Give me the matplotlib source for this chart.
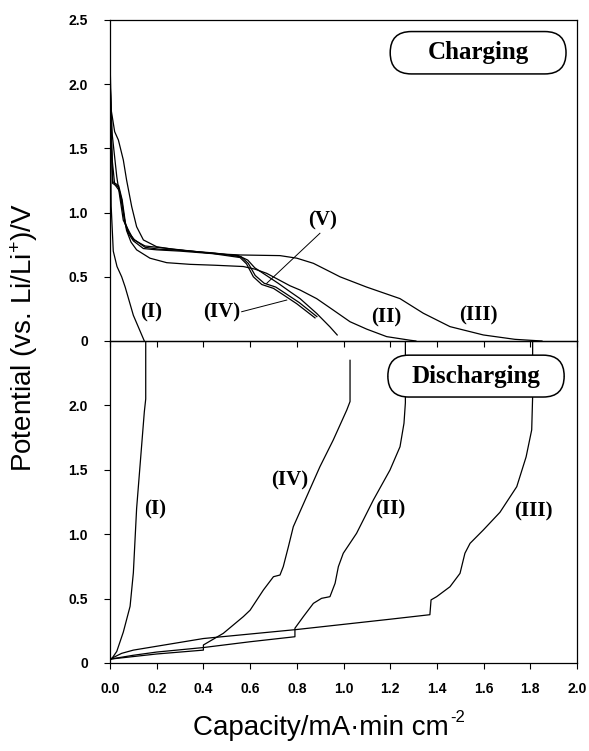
import matplotlib
matplotlib.use("Agg")
import matplotlib.pyplot as plt
from matplotlib.patches import FancyBboxPatch

# ---------------- data ----------------
# Charging curves (top panel)
chg_I_x = [0.0, 0.002, 0.005, 0.014, 0.03, 0.05, 0.065, 0.1, 0.147]
chg_I_y = [2.2, 1.6, 1.05, 0.70, 0.58, 0.50, 0.42, 0.20, 0.0]

chg_II_x = [0.0, 0.004, 0.01, 0.02, 0.04, 0.055, 0.071, 0.09, 0.114, 0.171, 0.243, 0.343, 0.45, 0.571,
            0.62, 0.671, 0.771, 0.814, 0.885, 0.956, 1.028, 1.1, 1.185, 1.285, 1.31]
chg_II_y = [2.1, 1.7, 1.4, 1.22, 1.17, 1.02, 0.86, 0.77, 0.71, 0.645, 0.61, 0.597, 0.59, 0.58,
            0.56, 0.527, 0.43, 0.397, 0.33, 0.241, 0.15, 0.092, 0.034, 0.006, 0.0]

chg_III_x = [0.0, 0.005, 0.02, 0.036, 0.057, 0.071, 0.093, 0.114, 0.143, 0.2, 0.271, 0.343, 0.45,
             0.557, 0.728, 0.8, 0.871, 0.956, 0.985, 1.099, 1.242, 1.342, 1.456, 1.599, 1.734, 1.85]
chg_III_y = [2.2, 1.8, 1.63, 1.565, 1.41, 1.254, 1.046, 0.89, 0.787, 0.734, 0.714, 0.70, 0.68,
             0.67, 0.665, 0.645, 0.605, 0.527, 0.50, 0.42, 0.33, 0.216, 0.112, 0.047, 0.013, 0.0]

chg_IV_x = [0.0, 0.004, 0.011, 0.036, 0.05, 0.064, 0.078, 0.1, 0.143, 0.2, 0.3, 0.442, 0.557,
            0.585, 0.614, 0.65, 0.70, 0.742, 0.80, 0.878]
chg_IV_y = [2.2, 1.6, 1.228, 1.20, 1.10, 0.917, 0.839, 0.78, 0.72, 0.71, 0.70, 0.68, 0.65,
            0.60, 0.50, 0.44, 0.41, 0.36, 0.29, 0.18]

chg_V_x = [0.0, 0.004, 0.012, 0.037, 0.052, 0.066, 0.08, 0.104, 0.15, 0.21, 0.31, 0.45, 0.562,
           0.592, 0.622, 0.66, 0.71, 0.752, 0.81, 0.886]
chg_V_y = [2.15, 1.65, 1.24, 1.21, 1.10, 0.92, 0.845, 0.79, 0.73, 0.715, 0.705, 0.685, 0.655,
           0.605, 0.51, 0.45, 0.42, 0.37, 0.30, 0.19]

chg_VI_x = [0.0, 0.005, 0.01, 0.029, 0.057, 0.1, 0.15, 0.25, 0.4, 0.55, 0.59, 0.62, 0.656,
            0.72, 0.771, 0.814, 0.885, 0.942, 0.973]
chg_VI_y = [2.05, 1.8, 1.6, 1.28, 0.94, 0.79, 0.74, 0.72, 0.69, 0.665, 0.63, 0.57, 0.527,
            0.45, 0.384, 0.33, 0.215, 0.11, 0.047]

# Discharging curves (bottom panel)
dis_I_x = [0.0, 0.01, 0.029, 0.057, 0.086, 0.1, 0.114, 0.136, 0.147, 0.153, 0.153]
dis_I_y = [0.02, 0.04, 0.09, 0.24, 0.44, 0.70, 1.20, 1.70, 1.95, 2.05, 2.5]

dis_II_x = [0.0, 0.1, 0.2, 0.4, 0.6, 0.792, 0.792, 0.828, 0.871, 0.906, 0.942, 0.964, 0.978,
            0.999, 1.056, 1.128, 1.199, 1.242, 1.259, 1.265, 1.265]
dis_II_y = [0.03, 0.06, 0.085, 0.12, 0.165, 0.204, 0.27, 0.36, 0.463, 0.502, 0.515, 0.619, 0.748,
            0.852, 1.007, 1.266, 1.498, 1.679, 1.861, 2.02, 2.5]

dis_III_x = [0.0, 0.05, 0.1, 0.2, 0.3, 0.4, 0.6, 0.8, 1.0, 1.2, 1.37, 1.375, 1.399, 1.456,
             1.499, 1.52, 1.542, 1.599, 1.67, 1.742, 1.782, 1.806, 1.81, 1.81]
dis_III_y = [0.03, 0.075, 0.10, 0.13, 0.16, 0.19, 0.225, 0.26, 0.30, 0.34, 0.375, 0.49, 0.515,
             0.592, 0.696, 0.852, 0.929, 1.033, 1.17, 1.369, 1.60, 1.81, 2.07, 2.5]

dis_IV_x = [0.0, 0.1, 0.2, 0.3, 0.4, 0.4, 0.485, 0.571, 0.6, 0.657, 0.70, 0.728, 0.742, 0.764,
            0.785, 0.842, 0.899, 0.956, 1.014, 1.028, 1.028]
dis_IV_y = [0.03, 0.05, 0.07, 0.085, 0.10, 0.14, 0.23, 0.36, 0.41, 0.567, 0.67, 0.683, 0.748, 0.903,
            1.058, 1.291, 1.524, 1.731, 1.964, 2.03, 2.35]

x_ticks = [0.0, 0.2, 0.4, 0.6, 0.8, 1.0, 1.2, 1.4, 1.6, 1.8, 2.0]
x_ticklabels = ["0.0", "0.2", "0.4", "0.6", "0.8", "1.0", "1.2", "1.4", "1.6", "1.8", "2.0"]
top_yticks = [0, 0.5, 1.0, 1.5, 2.0, 2.5]
top_yticklabels = ["0", "0.5", "1.0", "1.5", "2.0", "2.5"]
bot_yticks = [0, 0.5, 1.0, 1.5, 2.0]
bot_yticklabels = ["0", "0.5", "1.0", "1.5", "2.0"]

# ---------------- figure ----------------
W, H = 589, 751
fig = plt.figure(figsize=(W / 100, H / 100), dpi=100)
plt.rcParams["mathtext.default"] = "regular"

L, R = 110, 577
T_top, T_mid, T_bot = 20, 341, 663
ax_top = fig.add_axes([L / W, 1 - T_mid / H, (R - L) / W, (T_mid - T_top) / H])
ax_bot = fig.add_axes([L / W, 1 - T_bot / H, (R - L) / W, (T_bot - T_mid) / H])

lw = 0.9
for xs, ys in [(chg_I_x, chg_I_y), (chg_II_x, chg_II_y), (chg_III_x, chg_III_y),
               (chg_IV_x, chg_IV_y), (chg_V_x, chg_V_y), (chg_VI_x, chg_VI_y)]:
    ax_top.plot(xs, ys, color="black", lw=lw, solid_joinstyle="round")
for xs, ys in [(dis_I_x, dis_I_y), (dis_II_x, dis_II_y), (dis_III_x, dis_III_y),
               (dis_IV_x, dis_IV_y)]:
    ax_bot.plot(xs, ys, color="black", lw=lw, solid_joinstyle="round")

tick_font = dict(family="Liberation Sans", weight="bold", size=10)
for ax in (ax_top, ax_bot):
    ax.set_xlim(0, 2.0)
    ax.set_ylim(0, 2.5)
    ax.set_xticks(x_ticks)
    ax.tick_params(direction="out", length=4, width=0.8, colors="black")
    ax.tick_params(axis="y", pad=12)
    ax.tick_params(axis="x", pad=10)
    for s in ax.spines.values():
        s.set_linewidth(0.9)
        s.set_color("black")
    ax.patch.set_alpha(0)

ax_top.set_xticklabels([])
ax_top.set_yticks(top_yticks)
ax_top.set_yticklabels(top_yticklabels, **tick_font)
ax_bot.set_yticks(bot_yticks)
ax_bot.set_yticklabels(bot_yticklabels, **tick_font)
ax_bot.set_xticklabels(x_ticklabels, **tick_font)

serif_b = dict(family="Liberation Serif", weight="bold", size=15, ha="center", va="center")

# curve labels, top panel
ax_top.text(0.175, 0.22, "(I)", **serif_b)
ax_top.text(0.478, 0.22, "(IV)", **serif_b)
ax_top.text(0.911, 0.94, "(V)", **serif_b)
ax_top.text(1.185, 0.18, "(II)", **serif_b)
ax_top.text(1.577, 0.195, "(III)", **serif_b)
ax_top.plot([0.899, 0.671], [0.839, 0.449], color="black", lw=0.7)
ax_top.plot([0.564, 0.757], [0.228, 0.319], color="black", lw=0.7)

# curve labels, bottom panel
ax_bot.text(0.193, 1.19, "(I)", **serif_b)
ax_bot.text(0.771, 1.42, "(IV)", **serif_b)
ax_bot.text(1.199, 1.19, "(II)", **serif_b)
ax_bot.text(1.815, 1.175, "(III)", **serif_b)


def pill(ax, x0, x1, y0, y1, text):
    aspect = (2.5 / (T_mid - T_top)) / (2.0 / (R - L))
    h_eq = (y1 - y0) / aspect
    p = FancyBboxPatch((x0, y0), x1 - x0, y1 - y0,
                       boxstyle=f"round,pad=0,rounding_size={h_eq / 2:.4f}",
                       mutation_aspect=aspect, facecolor="white",
                       edgecolor="black", lw=1.1, zorder=5)
    ax.add_patch(p)
    ax.text((x0 + x1) / 2, (y0 + y1) / 2, text, family="Liberation Serif",
            weight="bold", size=18, ha="center", va="center", zorder=6)


pill(ax_top, 1.2, 1.953, 2.08, 2.41, "Charging")
pill(ax_bot, 1.19, 1.945, 2.065, 2.39, "Discharging")

fig.text(24 / W, 1 - 338 / H, "Potential (vs. Li/Li$^{+}$)/V", rotation=90,
         family="Liberation Sans", size=20, ha="center", va="center")
xl = fig.text(321 / W, 1 - 728 / H, "Capacity/mA\u00b7min cm",
              family="Liberation Sans", size=20, ha="center", va="center")
ax_bot.annotate("-2", xy=(1.0, 0.92), xycoords=xl, xytext=(1, 0), textcoords="offset points",
                family="Liberation Sans", size=12, ha="left", va="center",
                annotation_clip=False)

fig.savefig("out.png", dpi=100)
